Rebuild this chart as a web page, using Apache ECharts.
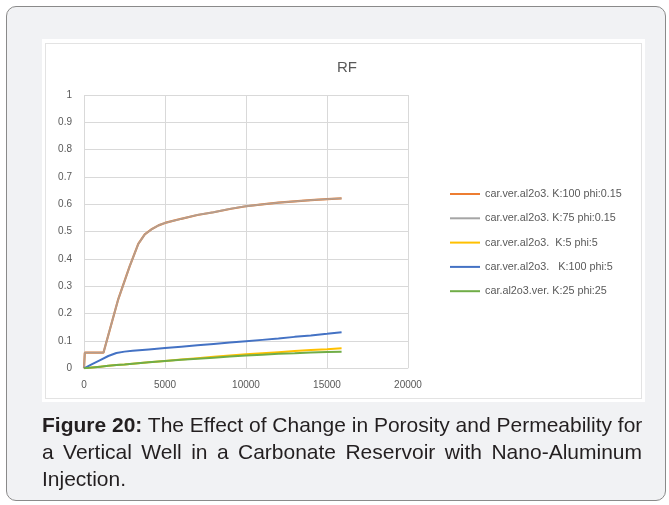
<!DOCTYPE html>
<html>
<head>
<meta charset="utf-8">
<script src="https://cdn.jsdelivr.net/npm/echarts@6/dist/echarts.min.js"></script>
<style>
  html, body { margin: 0; padding: 0; width: 669px; height: 505px; background: #ffffff; overflow: hidden; }
  #panel { position: absolute; left: 6px; top: 6px; width: 660px; height: 495px; box-sizing: border-box;
           border: 1px solid #8a8a8a; border-radius: 10px; background: #f1f2f4; }
  #whitebox { position: absolute; left: 42px; top: 39px; width: 603px; height: 363px; background: #ffffff; }
  #innerbox { position: absolute; left: 45px; top: 43px; width: 597px; height: 356px; box-sizing: border-box; border: 1px solid #e3e3e3; }
  #chart { position: absolute; left: 0; top: 0; width: 669px; height: 505px; }
  #caption { position: absolute; left: 42px; top: 411px; width: 600px; font-family: "Liberation Sans Narrow", "Arial Narrow", "Liberation Sans", Arial, sans-serif;
             font-size: 21px; line-height: 27px; color: #231f20; }
  #caption .j { text-align: justify; text-align-last: justify; white-space: nowrap; }
</style>
</head>
<body>
<div id="panel"></div>
<div id="whitebox"></div>
<div id="innerbox"></div>
<div id="chart"></div>
<div id="caption">
  <div class="j"><b>Figure 20:</b> The Effect of Change in Porosity and Permeability for</div>
  <div class="j">a Vertical Well in a Carbonate Reservoir with Nano-Aluminum</div>
  <div>Injection.</div>
</div>
<script>
var titleText = "RF";
var xTicks = [0, 5000, 10000, 15000, 20000];
var yTicks = [0, 0.1, 0.2, 0.3, 0.4, 0.5, 0.6, 0.7, 0.8, 0.9, 1];
var seriesNames = [
  "car.ver.al2o3. K:100 phi:0.15",
  "car.ver.al2o3. K:75 phi:0.15",
  "car.ver.al2o3.  K:5 phi:5",
  "car.ver.al2o3.   K:100 phi:5",
  "car.al2o3.ver. K:25 phi:25"
];
var seriesColors = ["#ED7D31", "#A5A5A5", "#FFC000", "#4472C4", "#70AD47"];

var timeHigh = [0, 50, 1200, 2100, 2800, 3350, 3750, 4200, 4600, 5000, 6000, 7000, 8000, 9000, 10000, 11000, 12000, 13000, 14000, 15000, 15900];
var rfK100phi015 = [0, 0.057, 0.057, 0.25, 0.37, 0.455, 0.49, 0.51, 0.523, 0.532, 0.547, 0.561, 0.571, 0.583, 0.593, 0.6, 0.606, 0.611, 0.615, 0.619, 0.622];
var rfK75phi015 = [0, 0.057, 0.057, 0.25, 0.37, 0.455, 0.49, 0.51, 0.523, 0.532, 0.547, 0.561, 0.571, 0.583, 0.593, 0.6, 0.606, 0.611, 0.615, 0.619, 0.622];

var timeLow = [0, 500, 1000, 1500, 2000, 2500, 3000, 4000, 5000, 6000, 7000, 8000, 9000, 10000, 11000, 12000, 13000, 14000, 15000, 15900];
var rfK5phi5 = [0, 0.003, 0.006, 0.009, 0.012, 0.014, 0.017, 0.022, 0.027, 0.032, 0.037, 0.042, 0.047, 0.051, 0.055, 0.059, 0.063, 0.067, 0.070, 0.073];
var rfK100phi5 = [0, 0.015, 0.030, 0.045, 0.056, 0.061, 0.064, 0.069, 0.074, 0.079, 0.084, 0.089, 0.094, 0.099, 0.104, 0.109, 0.115, 0.120, 0.126, 0.132];
var rfK25phi25 = [0, 0.003, 0.006, 0.009, 0.012, 0.014, 0.017, 0.022, 0.027, 0.031, 0.035, 0.039, 0.043, 0.047, 0.050, 0.053, 0.055, 0.058, 0.060, 0.061];

function pairs(xs, ys) { return xs.map(function (x, i) { return [x, ys[i]]; }); }

var seriesData = [
  pairs(timeHigh, rfK100phi015),
  pairs(timeHigh, rfK75phi015),
  pairs(timeLow, rfK5phi5),
  pairs(timeLow, rfK100phi5),
  pairs(timeLow, rfK25phi25)
];
var widths = [2.2, 1.8, 2, 2, 2];
var opacities = [1, 0.8, 1, 1, 1];

var chart = echarts.init(document.getElementById('chart'), null, { renderer: 'canvas' });
var font = '"Liberation Sans", Arial, sans-serif';
chart.setOption({
  animation: false,
  backgroundColor: 'transparent',
  color: seriesColors,
  title: {
    text: titleText, left: 342, top: 55, textAlign: 'center',
    textStyle: { fontFamily: font, fontSize: 15, fontWeight: 'normal', color: '#595959' }
  },
  legend: {
    orient: 'vertical', left: 445, top: 182,
    itemWidth: 30, itemHeight: 2, itemGap: 10.3, icon: 'rect',
    textStyle: { fontFamily: font, fontSize: 10.8, color: '#595959', lineHeight: 14 },
    data: seriesNames
  },
  grid: { left: 84, top: 95, width: 324, height: 273.3, containLabel: false },
  xAxis: {
    type: 'value', min: xTicks[0], max: xTicks[xTicks.length - 1], interval: xTicks[1] - xTicks[0],
    axisLine: { show: false }, axisTick: { show: false },
    axisLabel: { fontFamily: font, fontSize: 10, color: '#595959', margin: 12, formatter: function (v) { return String(v); } },
    splitLine: { show: true, lineStyle: { color: '#d9d9d9', width: 1 } }
  },
  yAxis: {
    type: 'value', min: yTicks[0], max: yTicks[yTicks.length - 1], interval: 0.1,
    axisLine: { show: false }, axisTick: { show: false },
    axisLabel: { fontFamily: font, fontSize: 10, color: '#595959', margin: 12 },
    splitLine: { show: true, lineStyle: { color: '#d9d9d9', width: 1 } }
  },
  series: seriesNames.map(function (n, i) {
    return {
      name: n, type: 'line', data: seriesData[i], showSymbol: false, symbol: 'none',
      lineStyle: { width: widths[i], color: seriesColors[i], opacity: opacities[i] }, z: 2 + i
    };
  })
});
</script>
</body>
</html>
